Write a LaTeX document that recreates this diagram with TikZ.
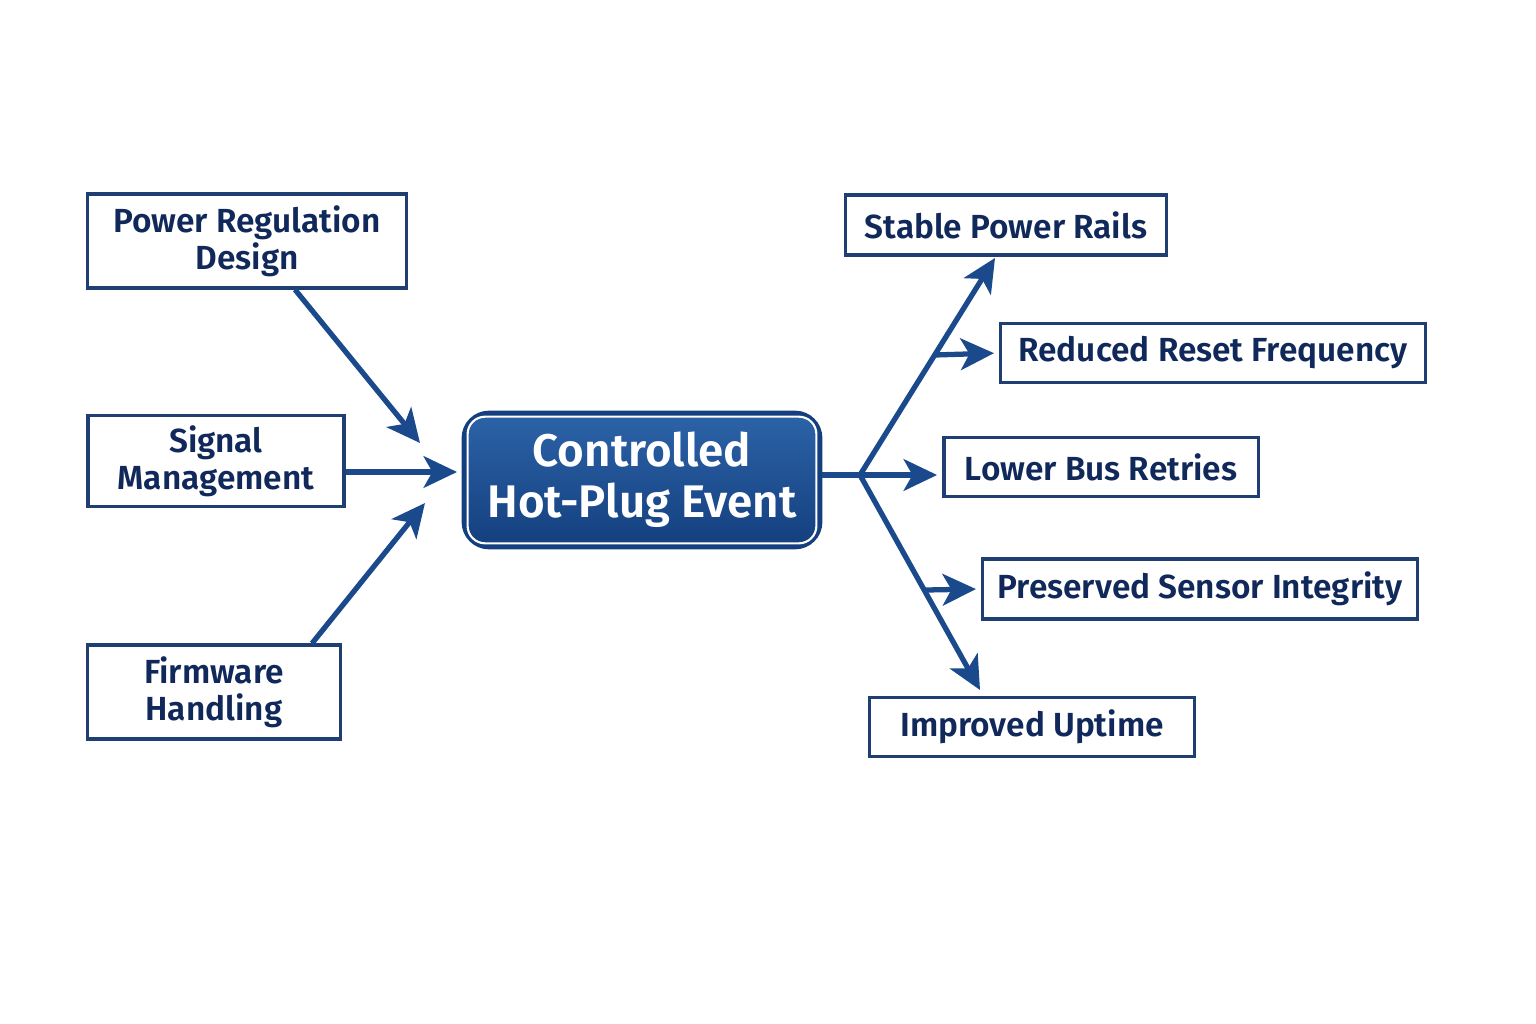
\documentclass[tikz,border=0pt]{standalone}
\usepackage{fontspec}
\setmainfont{Fira Sans}[BoldFont={Fira Sans SemiBold}]
\usetikzlibrary{arrows.meta,calc}
\definecolor{navy}{HTML}{10295A}
\definecolor{boxline}{HTML}{1F3F73}
\definecolor{linkblue}{HTML}{1A4A8C}
\definecolor{hubtop}{HTML}{2C63A8}
\definecolor{hubbot}{HTML}{143F7E}
\begin{document}
\begin{tikzpicture}[x=0.01cm, y=-0.01cm,
    box/.style={draw=boxline, line width=0.9pt, fill=white, text=navy,
                font=\fontsize{9.5}{10.5}\selectfont\bfseries, align=center,
                inner sep=0pt},
    hub/.style={draw=hubbot, line width=1.6pt, rounded corners=7pt,
                top color=hubtop, bottom color=hubbot, text=white,
                font=\fontsize{13}{14.5}\selectfont\bfseries, align=center,
                inner sep=0pt, minimum width=3.55cm, minimum height=1.33cm},
    link/.style={draw=linkblue, line width=1.5pt,
                 -{Stealth[length=9.5pt, width=9pt, inset=2.5pt]}}]
    \useasboundingbox (0,0) rectangle (1536,1024);

    % Central event
    \node[hub] (hot) at (642,480) {Controlled\\Hot-Plug Event};
    \draw[white, line width=0.6pt, rounded corners=5pt]
        ($(hot.north west)+(6,6)$) rectangle ($(hot.south east)+(-6,-6)$);

    % Causes (left)
    \node[box, minimum width=3.19cm, minimum height=0.94cm] (pwr) at (247,241) {Power Regulation\\Design};
    \node[box, minimum width=2.56cm, minimum height=0.91cm] (sig) at (216,461) {Signal\\Management};
    \node[box, minimum width=2.53cm, minimum height=0.94cm] (fw) at (214,692) {Firmware\\Handling};

    % Effects (right)
    \node[box, minimum width=3.20cm, minimum height=0.60cm] (rails) at (1006,225) {Stable Power Rails};
    \node[box, minimum width=4.24cm, minimum height=0.59cm] (reset) at (1213,353) {Reduced Reset Frequency};
    \node[box, minimum width=3.14cm, minimum height=0.59cm] (bus) at (1101,467) {Lower Bus Retries};
    \node[box, minimum width=4.34cm, minimum height=0.60cm] (sensor) at (1200,589) {Preserved Sensor Integrity};
    \node[box, minimum width=3.25cm, minimum height=0.59cm] (uptime) at (1032,727) {Improved Uptime};

    % Arrows into the event
    \coordinate (inP) at (420,443);
    \coordinate (inS) at (457,472);
    \coordinate (inF) at (425,503);
    \draw[link] ($(pwr.south)+(48,0)$) -- (inP);
    \draw[link] ($(sig.east)+(0,11)$) -- (inS);
    \draw[link] ($(fw.north)+(98,0)$) -- (inF);

    % Fan out to the effects
    \coordinate (jn) at (860,475);
    \coordinate (upEnd) at (995,258);
    \coordinate (dnEnd) at (980,690);
    \draw[draw=linkblue, line width=1.5pt] (hot.east |- jn) -- (jn);
    \draw[link, shorten >=1.5pt] (jn) -- (bus.west |- jn);
    \draw[link] (jn) -- (upEnd);
    \draw[link] (jn) -- (dnEnd);
    \draw[link, shorten >=1.5pt] ($(jn)!0.553!(upEnd)$) -- (reset.west);
    \draw[link, shorten >=1.5pt] ($(jn)!0.535!(dnEnd)$) -- (sensor.west);
\end{tikzpicture}
\end{document}
